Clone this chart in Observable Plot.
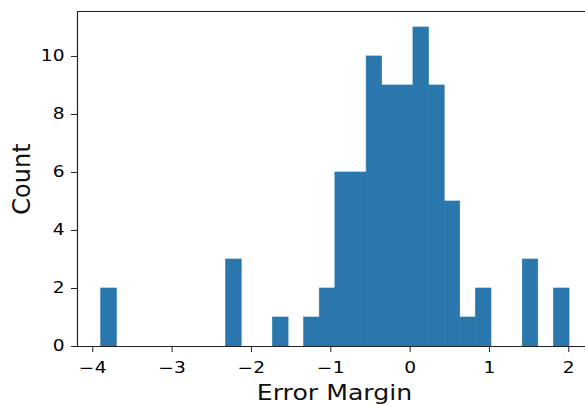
<!DOCTYPE html>
<html>
<head>
<meta charset="utf-8">
<script src="https://cdn.jsdelivr.net/npm/d3@7"></script>
<script src="https://cdn.jsdelivr.net/npm/@observablehq/plot@0.6"></script>
<style>
  html, body { margin: 0; padding: 0; background: #fff; }
  #chart svg { display: block; }
</style>
</head>
<body>
<div id="chart"></div>
<script>
// Histogram bin edges (30 bins)
const binEdges = [-3.894, -3.697, -3.500, -3.304, -3.107, -2.910, -2.713, -2.516, -2.320, -2.123,
  -1.926, -1.729, -1.532, -1.336, -1.139, -0.942, -0.745, -0.548, -0.352, -0.155,
  0.042, 0.239, 0.436, 0.632, 0.829, 1.026, 1.223, 1.420, 1.616, 1.813, 2.010];
const counts = [2, 0, 0, 0, 0, 0, 0, 0, 3, 0, 0, 1, 0, 1, 2, 6, 6, 10, 9, 9, 11, 9, 5, 1, 2, 0, 0, 3, 0, 2];
const xTicks = [-4, -3, -2, -1, 0, 1, 2];
const yTicks = [0, 2, 4, 6, 8, 10];
const xLabel = "Error Margin";
const yLabel = "Count";

const bins = counts.map((c, i) => ({x1: binEdges[i], x2: binEdges[i + 1], count: c})).filter(d => d.count > 0);

const xDomain = [-4.193, 2.211];
const yDomain = [0, 11.55];
const minus = v => String(v).replace("-", "\u2212");
const font = "DejaVu Sans, sans-serif";
const barColor = "#2a77ad";

const chart = Plot.plot({
  width: 585,
  height: 406,
  marginLeft: 77,
  marginRight: 0,
  marginTop: 11,
  marginBottom: 60,
  style: {fontFamily: font, background: "#fff", color: "#000"},
  x: {domain: xDomain},
  y: {domain: yDomain},
  marks: [
    Plot.rectY(bins, {x1: "x1", x2: "x2", y: "count", fill: barColor, stroke: barColor, strokeWidth: 0.6}),
    Plot.axisX(xTicks, {tickSize: 6, tickPadding: 9, fontSize: 15.5, tickFormat: minus, label: null, stroke: "#222"}),
    Plot.axisY(yTicks, {tickSize: 6, tickPadding: 7, fontSize: 15.5, tickFormat: minus, label: null, stroke: "#222"}),
    Plot.ruleY([yDomain[0]], {stroke: "#222", strokeWidth: 1.2}),
    Plot.ruleY([yDomain[1]], {stroke: "#222", strokeWidth: 1.2}),
    Plot.ruleX([xDomain[0]], {stroke: "#222", strokeWidth: 1.2}),
    Plot.text([xLabel], {frameAnchor: "bottom", dy: 47, dx: 3, fontSize: 21, lineAnchor: "middle", textAnchor: "middle", fill: "#111"}),
    Plot.text([yLabel], {frameAnchor: "left", dx: -55, rotate: -90, fontSize: 24, lineAnchor: "middle", textAnchor: "middle", fill: "#111"})
  ]
});
document.getElementById("chart").appendChild(chart);

// widen horizontal texts to match the reference's wide lettering
d3.select(chart).selectAll("text").each(function() {
  const t = d3.select(this);
  const tr = t.attr("transform") || "";
  if (tr.includes("rotate")) return;
  let x = parseFloat(t.attr("x"));
  if (!isFinite(x)) x = 0;
  t.attr("transform", (tr + ` translate(${x},0) scale(1.2,1) translate(${-x},0)`).trim());
});
</script>
</body>
</html>
